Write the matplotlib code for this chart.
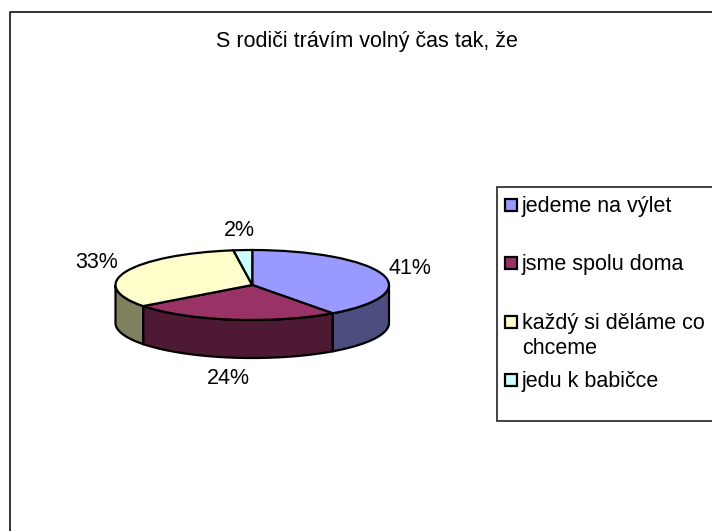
# plot.py
# 3D style pie chart: S rodici travim volny cas tak, ze

import numpy as np
import matplotlib
matplotlib.use('Agg')
import matplotlib.pyplot as plt
from matplotlib.patches import Rectangle

W, H = 712, 531

TITLE      = 'S rodiči trávím volný čas tak, že'
CATEGORIES = ['jedeme na výlet', 'jsme spolu doma', 'každý si děláme co\nchceme', 'jedu k babičce']
VALUES     = [40.0, 24.7, 33.1, 2.2]
LABELS     = ['41%', '24%', '33%', '2%']
COLORS     = ['#9999FF', '#993366', '#FFFFCC', '#CCFFFF']
SIDES      = ['#4D4D80', '#4D1933', '#80805F', '#668080']

plt.rcParams['font.family'] = ['Liberation Sans', 'DejaVu Sans']
FONT = 15.5

fig = plt.figure(figsize=(W / 100, H / 100), dpi=100, facecolor='white')

# overlay in pixel coordinates for frame, title, labels and legend
bg = fig.add_axes([0, 0, 1, 1], zorder=3)
bg.set_xlim(0, W)
bg.set_ylim(H, 0)
bg.axis('off')
bg.patch.set_alpha(0)

bg.plot([9.5, 9.5, W + 5], [H + 5, 11.5, 11.5], color='#333333', lw=1.4, clip_on=False)
bg.text(366.5, 42, TITLE, fontsize=FONT, ha='center', va='center')

# pie axes: top ellipse of the cake
left, right, top, bottom = 115.5, 389, 250, 320
ax = fig.add_axes([left / W, 1 - bottom / H, (right - left) / W, (bottom - top) / H], zorder=2)
ax.pie(VALUES, colors=COLORS, startangle=90, counterclock=False, radius=1,
       wedgeprops={'edgecolor': 'black', 'linewidth': 1.6})
ax.set_aspect('auto')
ax.set_xlim(-1, 1)
ax.set_ylim(-1, 1)

# side wall, only the front half of the rim is visible
depth = 38 / 35
edges = np.concatenate([[0], np.cumsum(VALUES)]) / np.sum(VALUES) * 360
for i, col in enumerate(SIDES):
    a0, a1 = max(edges[i], 90), min(edges[i + 1], 270)
    if a1 <= a0:
        continue
    t = np.radians(np.linspace(a0, a1, 80))
    x, y = np.sin(t), np.cos(t)
    ax.fill(np.r_[x, x[::-1]], np.r_[y, y[::-1] - depth], facecolor=col,
            edgecolor='black', lw=1.6, clip_on=False, zorder=0.5)

# data labels
label_pos = [(410, 269), (228, 379), (97, 263), (239, 231)]
for txt, (px, py) in zip(LABELS, label_pos):
    bg.text(px, py, txt, fontsize=FONT, ha='center', va='center')

# legend
bg.add_patch(Rectangle((496.5, 187), W + 5 - 496.5, 234, facecolor='white',
                       edgecolor='#222222', lw=1.2, clip_on=False))
legend_y = [205, 263, 322, 380]
for name, col, y in zip(CATEGORIES, COLORS, legend_y):
    bg.add_patch(Rectangle((504.5, y - 6), 12, 12, facecolor=col,
                           edgecolor='black', lw=1.6))
    for k, line in enumerate(name.split('\n')):
        bg.text(522, y + 1.5 + k * 25.5, line, fontsize=FONT, ha='left', va='center')

fig.savefig('out.png', dpi=100)
